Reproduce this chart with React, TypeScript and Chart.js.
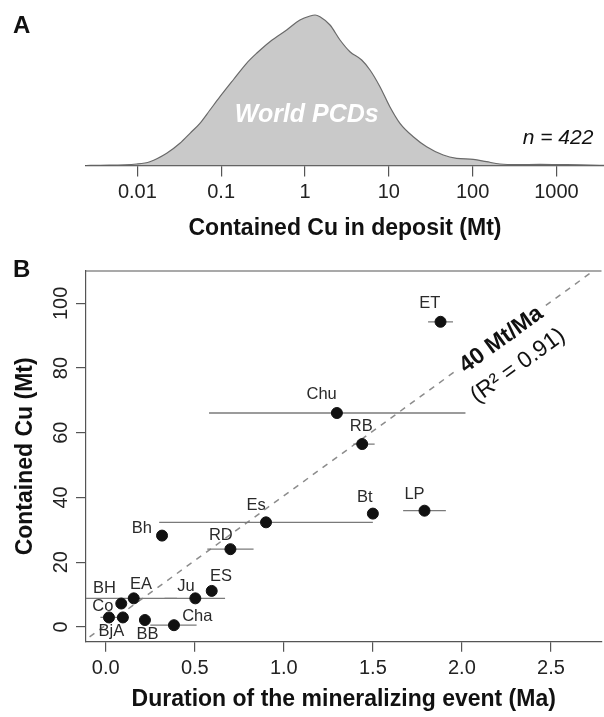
import React, { useEffect, useRef } from "react";
import { Chart, registerables } from "chart.js";

Chart.register(...registerables);

const FONT = "'Liberation Sans', Arial, Helvetica, sans-serif";

// ---------- Panel A: density of contained Cu (world PCDs) ----------
const densityX = [0.00244, 0.0036, 0.0098, 0.0141, 0.0224, 0.0322, 0.0425, 0.0558, 0.0735, 0.0968, 0.139, 0.201, 0.265, 0.382, 0.605, 0.871, 1.15, 1.32, 1.51, 1.99, 2.62, 3.44, 4.75, 5.97, 7.85, 10.3, 13.6, 19.6, 28.3, 44.7, 64.6, 102, 147, 212, 336, 637, 1327, 3311, 3700];
const densityY = [0.0, 0.0003, 0.003, 0.0076, 0.0244, 0.0444, 0.0644, 0.0844, 0.111, 0.1376, 0.171, 0.2044, 0.2244, 0.2476, 0.271, 0.291, 0.299, 0.301, 0.2976, 0.281, 0.251, 0.2276, 0.211, 0.191, 0.1576, 0.1176, 0.0844, 0.0576, 0.0376, 0.021, 0.0144, 0.0124, 0.0076, 0.003, 0.0016, 0.0024, 0.0016, 0.0004, 0.0003];
const topTickValues = [0.01, 0.1, 1, 10, 100, 1000];
const topTickLabels = ["0.01", "0.1", "1", "10", "100", "1000"];
const sampleCount = 422;

// ---------- Panel B: contained Cu vs duration ----------
const depositNames = ["ET", "Chu", "RB", "Bt", "LP", "Es", "Bh", "RD", "ES", "Ju", "EA", "BH", "Co", "BjA", "BB", "Cha"];
const durationMa = [1.88, 1.298, 1.44, 1.5, 1.79, 0.9, 0.316, 0.7, 0.595, 0.503, 0.157, 0.087, 0.096, 0.018, 0.22, 0.383];
const containedCu = [94.3, 66.1, 56.5, 35.0, 35.9, 32.3, 28.2, 24.0, 11.1, 8.8, 8.8, 7.2, 2.9, 2.9, 2.1, 0.5];
const durationMin = [1.81, 0.58, 1.39, null, 1.67, 0.3, null, 0.57, null, 0.33, -0.3, null, null, -0.03, null, 0.25];
const durationMax = [1.95, 2.02, 1.51, null, 1.91, 1.5, null, 0.83, null, 0.67, 0.4, null, null, 0.13, null, 0.51];
const trendX = [-0.2, 2.9];
const trendY = [-7.5, 116.5];
const bottomXTicks = [0, 0.5, 1, 1.5, 2, 2.5];
const bottomXTickLabels = ["0.0", "0.5", "1.0", "1.5", "2.0", "2.5"];
const bottomYTicks = [0, 20, 40, 60, 80, 100];
const rateLabel = "40 Mt/Ma";
const fitLabel = "(R\u00B2 = 0.91)";

// label placement (pixel offsets from each point)
const labelOffsets: Record<string, [number, number]> = {
  ET: [-10.7, -18.4], Chu: [-15.3, -18.3], RB: [-1, -17.3], Bt: [-8, -16.6], LP: [-10, -16.7],
  Es: [-10, -17.3], Bh: [-20.3, -7], RD: [-9.6, -14], ES: [9.4, -14], Ju: [-9.4, -12.3],
  EA: [7.4, -14.3], BH: [-16.7, -15], Co: [-20, -10.6], BjA: [2.4, 14.4], BB: [2.6, 14], Cha: [23.3, -8.3],
};

const topAnnotations = {
  id: "topAnnotations",
  afterDraw(chart: any) {
    const ctx = chart.ctx;
    const xs = chart.scales.x;
    ctx.save();
    ctx.fillStyle = "#111";
    ctx.font = `bold 24px ${FONT}`;
    ctx.textAlign = "left";
    ctx.textBaseline = "alphabetic";
    ctx.fillText("A", 13, 33);

    ctx.fillStyle = "#ffffff";
    ctx.font = `italic bold 25px ${FONT}`;
    ctx.textAlign = "center";
    ctx.textBaseline = "middle";
    ctx.fillText("World PCDs", xs.getPixelForValue(1.05), 115.5);

    ctx.fillStyle = "#111";
    ctx.font = `italic 21px ${FONT}`;
    ctx.fillText(`n = ${sampleCount}`, 558, 138.5);
    ctx.restore();
  },
};

const bottomAnnotations = {
  id: "bottomAnnotations",
  afterDraw(chart: any) {
    const ctx = chart.ctx;
    const xs = chart.scales.x;
    const ys = chart.scales.y;
    const area = chart.chartArea;
    ctx.save();
    // top border of the box
    ctx.strokeStyle = "#555";
    ctx.lineWidth = 1.2;
    ctx.beginPath();
    ctx.moveTo(area.left, area.top);
    ctx.lineTo(area.right, area.top);
    ctx.stroke();

    // panel letter
    ctx.fillStyle = "#111";
    ctx.font = `bold 24px ${FONT}`;
    ctx.textAlign = "left";
    ctx.textBaseline = "alphabetic";
    ctx.fillText("B", 13, 27);

    // rotated y tick labels
    ctx.font = `20px ${FONT}`;
    ctx.fillStyle = "#222";
    ctx.textAlign = "center";
    ctx.textBaseline = "middle";
    bottomYTicks.forEach((v) => {
      const py = ys.getPixelForValue(v);
      ctx.save();
      ctx.translate(61.7, py);
      ctx.rotate(-Math.PI / 2);
      ctx.fillText(String(v), 0, 0);
      ctx.restore();
    });

    // point labels
    const meta = chart.getDatasetMeta(chart.data.datasets.length - 1);
    ctx.font = `16.5px ${FONT}`;
    ctx.fillStyle = "#2a2a2a";
    meta.data.forEach((el: any, i: number) => {
      const name = depositNames[i];
      const off = labelOffsets[name] || [0, -16];
      ctx.fillText(name, el.x + off[0], el.y + off[1]);
    });

    // regression annotation
    const p1x = xs.getPixelForValue(trendX[0]);
    const p1y = ys.getPixelForValue(trendY[0]);
    const p2x = xs.getPixelForValue(trendX[1]);
    const p2y = ys.getPixelForValue(trendY[1]);
    const ang = Math.atan2(p2y - p1y, p2x - p1x);
    const ax = 2.222;
    const t = (ax - trendX[0]) / (trendX[1] - trendX[0]);
    const ayv = trendY[0] + t * (trendY[1] - trendY[0]);
    const cx = xs.getPixelForValue(ax);
    const cy = ys.getPixelForValue(ayv) + 2;
    ctx.save();
    ctx.translate(cx, cy);
    ctx.rotate(ang);
    ctx.font = `bold 23px ${FONT}`;
    const w = ctx.measureText(rateLabel).width;
    ctx.fillStyle = "#ffffff";
    ctx.fillRect(-w / 2 - 5, -13, w + 10, 26);
    ctx.fillStyle = "#111";
    ctx.fillText(rateLabel, 0, 0);
    ctx.font = `23px ${FONT}`;
    ctx.fillText(fitLabel, -2, 31);
    ctx.restore();

    ctx.restore();
  },
};

export default function App() {
  const topRef = useRef<HTMLCanvasElement | null>(null);
  const botRef = useRef<HTMLCanvasElement | null>(null);

  useEffect(() => {
    if (!topRef.current || !botRef.current) return;

    const top = new Chart(topRef.current, {
      type: "line",
      data: {
        datasets: [
          {
            data: densityX.map((x, i) => ({ x, y: densityY[i] })),
            fill: "origin",
            backgroundColor: "#c9c9c9",
            borderColor: "#6a6a6a",
            borderWidth: 1.2,
            pointRadius: 0,
            cubicInterpolationMode: "monotone",
          } as any,
        ],
      },
      options: {
        responsive: false,
        animation: false,
        layout: { padding: { left: 86, right: 0, top: 10, bottom: 7.2 } },
        plugins: { legend: { display: false }, tooltip: { enabled: false } },
        scales: {
          x: {
            type: "logarithmic",
            min: 0.00244,
            max: 3700,
            afterBuildTicks: (s: any) => {
              s.ticks = topTickValues.map((v) => ({ value: v }));
            },
            ticks: {
              callback: (_v: any, i: number) => topTickLabels[i],
              font: { family: FONT, size: 20 },
              color: "#222",
              padding: 4,
              maxRotation: 0,
              minRotation: 0,
              autoSkip: false,
            },
            grid: { drawOnChartArea: false, drawTicks: true, tickLength: 11, color: "#555", lineWidth: 1.2 },
            border: { display: true, color: "#555", width: 1.2 },
            title: {
              display: true,
              text: "Contained Cu in deposit (Mt)",
              font: { family: FONT, size: 23, weight: "bold" },
              color: "#111",
              padding: { top: 6.7, bottom: 0 },
            },
          } as any,
          y: { display: false, min: 0, max: 0.311 },
        },
      },
      plugins: [topAnnotations],
    });

    const errIdx = durationMin.map((v, i) => (v === null ? -1 : i)).filter((i) => i >= 0);

    const bottom = new Chart(botRef.current, {
      type: "scatter",
      data: {
        datasets: [
          {
            type: "line",
            data: trendX.map((x, i) => ({ x, y: trendY[i] })),
            borderColor: "#8c8c8c",
            borderDash: [6, 6],
            borderWidth: 1.5,
            pointRadius: 0,
            order: 3,
          } as any,
          ...errIdx.map(
            (i) =>
              ({
                type: "line",
                data: [
                  { x: durationMin[i], y: containedCu[i] },
                  { x: durationMax[i], y: containedCu[i] },
                ],
                borderColor: "#7a7a7a",
                borderWidth: 1.3,
                pointRadius: 0,
                order: 2,
              }) as any
          ),
          {
            data: durationMa.map((x, i) => ({ x, y: containedCu[i] })),
            backgroundColor: "#111",
            borderColor: "#111",
            pointRadius: 5.5,
            pointHoverRadius: 5.5,
            order: 1,
          },
        ],
      },
      options: {
        responsive: false,
        animation: false,
        layout: { padding: { left: 0, right: 0, top: 21, bottom: 3.2 } },
        plugins: { legend: { display: false }, tooltip: { enabled: false } },
        scales: {
          x: {
            type: "linear",
            min: -0.111,
            max: 2.784,
            afterBuildTicks: (s: any) => {
              s.ticks = bottomXTicks.map((v) => ({ value: v }));
            },
            ticks: {
              callback: (_v: any, i: number) => bottomXTickLabels[i],
              font: { family: FONT, size: 20 },
              color: "#222",
              padding: 4.3,
              maxRotation: 0,
              minRotation: 0,
              autoSkip: false,
            },
            grid: { drawOnChartArea: false, drawTicks: true, tickLength: 10, color: "#555", lineWidth: 1.2 },
            border: { display: true, color: "#555", width: 1.2 },
            title: {
              display: true,
              text: "Duration of the mineralizing event (Ma)",
              font: { family: FONT, size: 23, weight: "bold" },
              color: "#111",
              padding: { top: 1.9, bottom: 0 },
            },
          } as any,
          y: {
            type: "linear",
            min: -4.6,
            max: 110,
            afterBuildTicks: (s: any) => {
              s.ticks = bottomYTicks.map((v) => ({ value: v }));
            },
            ticks: { display: false },
            grid: { drawOnChartArea: false, drawTicks: true, tickLength: 10, color: "#555", lineWidth: 1.2 },
            border: { display: true, color: "#555", width: 1.2 },
            title: {
              display: true,
              text: "Contained Cu (Mt)",
              font: { family: FONT, size: 23, weight: "bold" },
              color: "#111",
              padding: { top: 11.7, bottom: 36.7 },
            },
          } as any,
        },
      },
      plugins: [bottomAnnotations],
    });

    return () => {
      top.destroy();
      bottom.destroy();
    };
  }, []);

  return (
    <div
      style={{
        position: "fixed",
        left: 0,
        top: 0,
        width: 604,
        height: 717,
        overflow: "hidden",
        background: "#ffffff",
      }}
    >
      <canvas ref={topRef} width={604} height={250} style={{ position: "absolute", left: 0, top: 0 }} />
      <canvas ref={botRef} width={608} height={467} style={{ position: "absolute", left: 0, top: 250 }} />
    </div>
  );
}
